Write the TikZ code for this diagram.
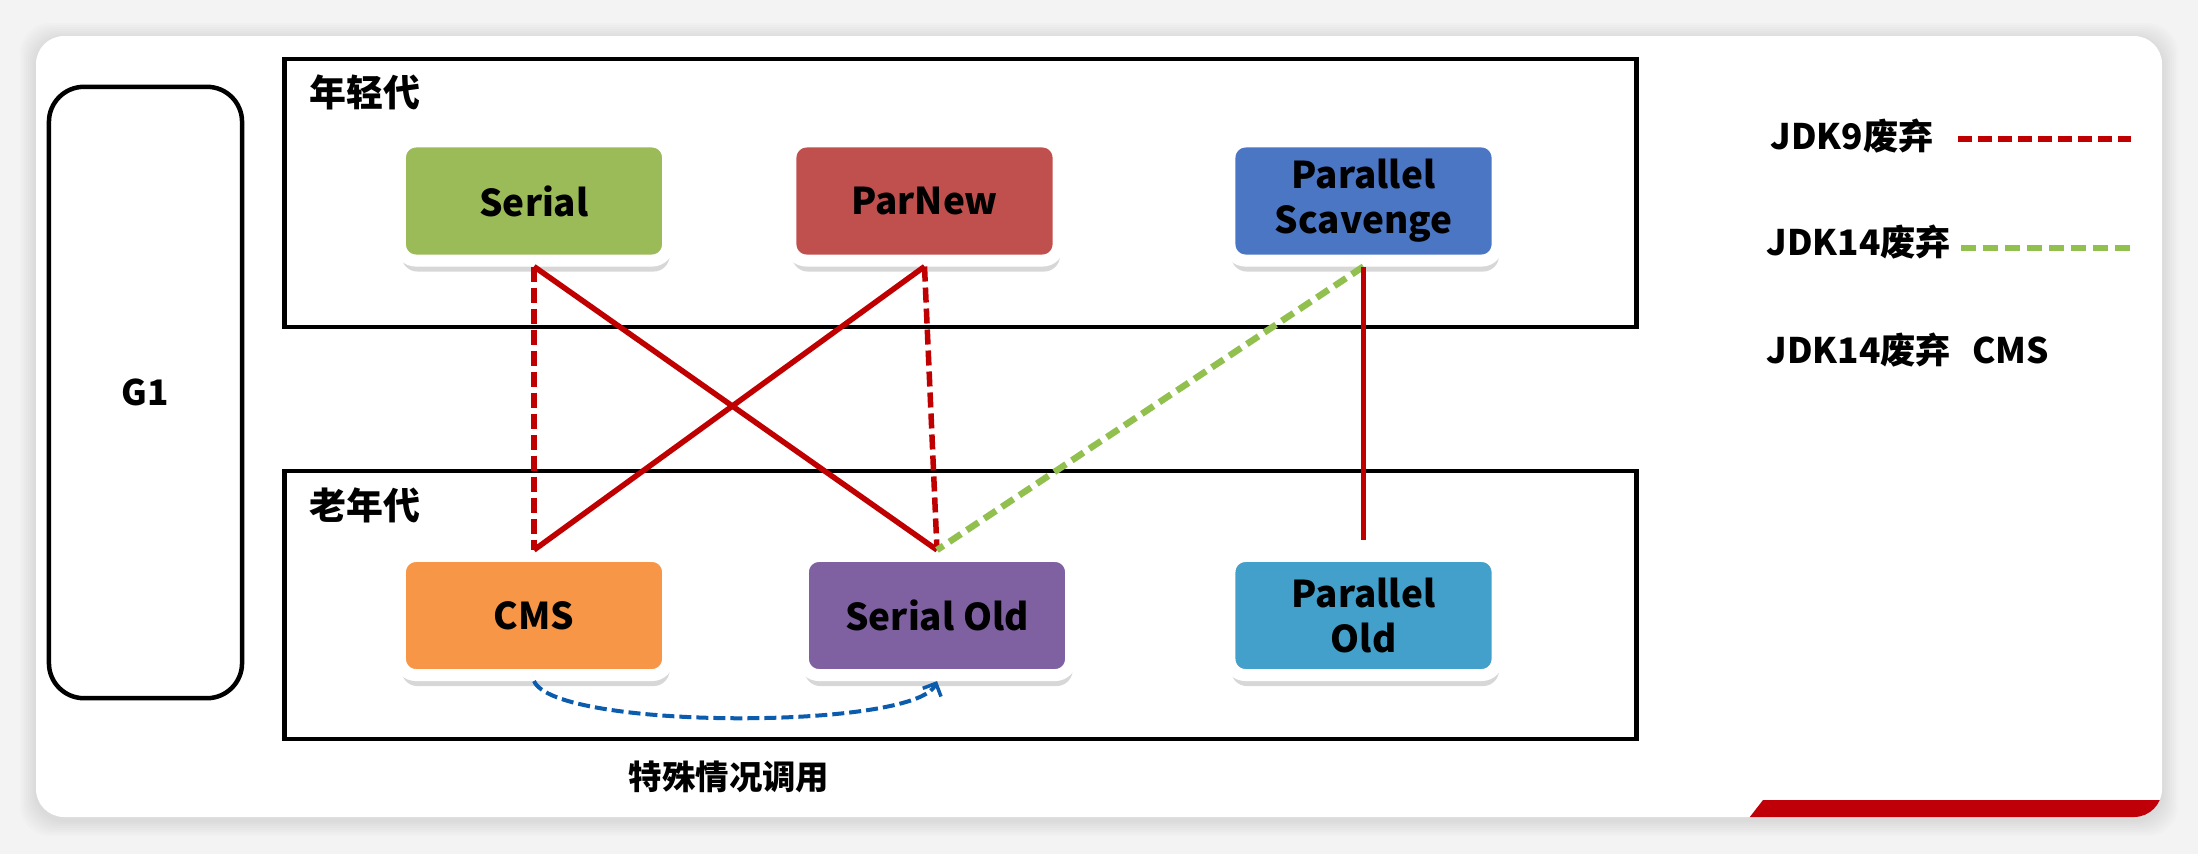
\documentclass[tikz,border=0pt]{standalone}
\usepackage{fontspec}
\setmainfont{Noto Sans CJK SC}
\usetikzlibrary{shadows,arrows.meta}
\definecolor{cgreen}{HTML}{9BBB59}
\definecolor{cred}{HTML}{C0504D}
\definecolor{cblue}{HTML}{4A76C4}
\definecolor{corange}{HTML}{F79646}
\definecolor{cpurple}{HTML}{7F60A0}
\definecolor{ccyan}{HTML}{43A0CA}
\definecolor{lred}{HTML}{C00000}
\definecolor{lgreen}{HTML}{92C04E}
\definecolor{lblue}{HTML}{0B5CAD}
\definecolor{bggray}{HTML}{F3F3F3}
\definecolor{banred}{HTML}{C00008}
\begin{document}
\begin{tikzpicture}[x=0.01cm,y=-0.01cm,
  gcbox/.style={draw=white, line width=0.12cm, rounded corners=0.16cm,
    minimum width=2.68cm, minimum height=1.19cm, align=center, inner sep=0pt,
    font=\bfseries\fontsize{10.5}{12.8}\selectfont,
    drop shadow={shadow xshift=0.015cm, shadow yshift=-0.11cm, opacity=0.22, fill=black!70}},
  genframe/.style={draw=black, line width=0.045cm, minimum width=13.51cm, minimum height=2.68cm, inner sep=0pt},
  genlabel/.style={inner sep=0pt, anchor=west, font=\bfseries\fontsize{10.5}{12}\selectfont},
  leglabel/.style={inner sep=0pt, anchor=west, font=\bfseries\fontsize{10}{12}\selectfont},
  redsolid/.style={draw=lred, line width=0.055cm},
  reddash/.style={draw=lred, line width=0.055cm, dash pattern=on 0.15cm off 0.06cm},
  greendash/.style={draw=lgreen, line width=0.065cm, dash pattern=on 0.14cm off 0.07cm},
  bluedash/.style={draw=lblue, line width=0.04cm, dash pattern=on 0.12cm off 0.05cm}
]
\useasboundingbox (0,0) rectangle (2198,854);
% background
\fill[bggray] (0,0) rectangle (2198,854);
\foreach \i in {1,...,8}{
  \fill[black, opacity=0.012, rounded corners=0.3cm] (36-2*\i,36-2*\i+3) rectangle (2162+2*\i,817+2*\i+3);
}
\fill[white, rounded corners=0.28cm] (36,36) rectangle (2162,817);
% watermark banner
\begin{scope}
  \clip[rounded corners=0.28cm] (36,36) rectangle (2162,817);
  \fill[banred] (1749,818) -- (1763,800) -- (2170,800) -- (2170,818) -- cycle;
\end{scope}

% G1
\node[draw=black, line width=0.045cm, rounded corners=0.35cm, minimum width=1.93cm, minimum height=6.11cm,
  inner sep=0pt, font=\bfseries\fontsize{10}{12}\selectfont] (g1) at (145.5,392.5) {G1};

% generation frames
\node[genframe] (young) at (960.5,193) {};
\node[genframe] (old) at (960.5,605) {};
\node[genlabel] (ylab) at (309,92) {年轻代};
\node[genlabel] (olab) at (309,505) {老年代};

% collectors
\node[gcbox, fill=cgreen] (serial) at (534,201) {Serial};
\node[gcbox, fill=cred] (parnew) at (924.5,201) {ParNew};
\node[gcbox, fill=cblue] (ps) at (1363.5,201) {Parallel\\Scavenge};
\node[gcbox, fill=corange] (cms) at (534,615.5) {CMS};
\node[gcbox, fill=cpurple] (sold) at (937,615.5) {Serial Old};
\node[gcbox, fill=ccyan] (pold) at (1363.5,615.5) {Parallel\\Old};

% connectors
\draw[reddash] (serial.south) -- (cms.north);
\draw[redsolid] (serial.south) -- (sold.north);
\draw[redsolid] (parnew.south) -- (cms.north);
\draw[reddash] (parnew.south) -- (sold.north);
\draw[greendash] (ps.south) -- (sold.north);
\draw[redsolid, shorten >=0.1cm] (ps.south) -- (pold.north);
\draw[bluedash, -{Straight Barb[length=0.1cm, width=0.2cm, line width=0.035cm]}]
  (cms.south) .. controls (555,730) and (915,730) .. (sold.south);

\node[inner sep=0pt, font=\bfseries\fontsize{9.5}{11}\selectfont] (special) at (729,777) {特殊情况调用};

% legend
\node[leglabel] (leg1) at (1770,136) {JDK9废弃};
\node[leglabel] (leg2) at (1766,242) {JDK14废弃};
\node[leglabel] (leg3) at (1766,350) {JDK14废弃\hspace{0.6em}CMS};
\coordinate (l1a) at (1958,139);
\coordinate (l1b) at (2131,139);
\coordinate (l2a) at (1961,248);
\coordinate (l2b) at (2135,248);
\draw[lred, line width=0.055cm, dash pattern=on 0.14cm off 0.06cm] (l1a) -- (l1b);
\draw[lgreen, line width=0.06cm, dash pattern=on 0.15cm off 0.07cm] (l2a) -- (l2b);
\end{tikzpicture}
\end{document}
